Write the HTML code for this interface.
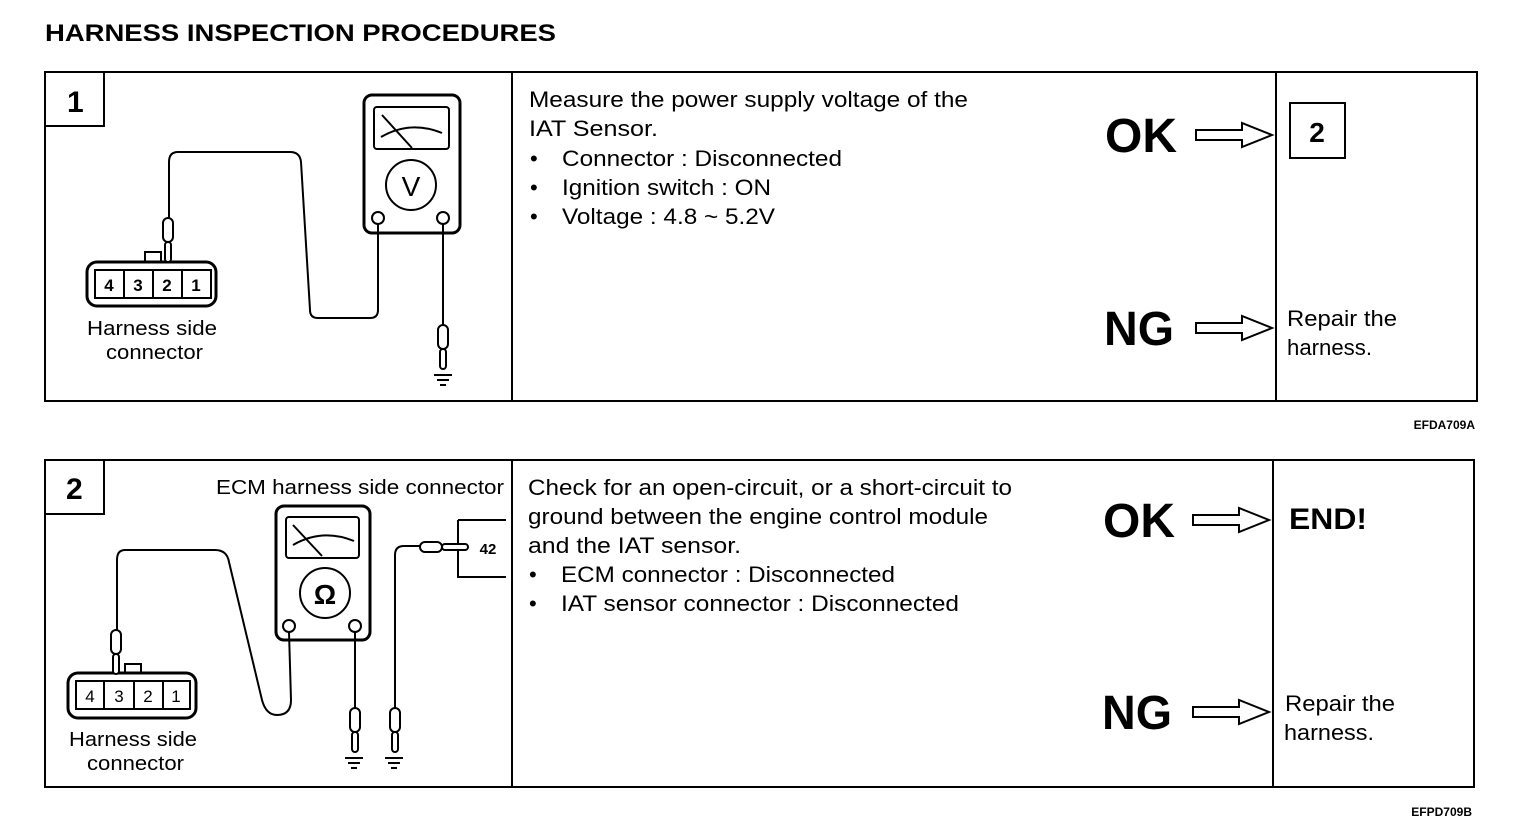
<!DOCTYPE html>
<html><head><meta charset="utf-8"><style>
html,body{margin:0;padding:0;background:#fff;}
svg{display:block;}
text{font-family:"Liberation Sans",Arial,sans-serif;fill:#000;}
</style></head><body>
<svg width="1536" height="830" viewBox="0 0 1536 830" xmlns="http://www.w3.org/2000/svg">
<defs>
<g id="arrow"><path d="M0,-5 L46,-5 L46,-12 L76,0 L46,12 L46,5 L0,5 Z" fill="#fff" stroke="#000" stroke-width="2"/></g>
<g id="gnd" stroke="#000" stroke-width="2"><line x1="-9" y1="0" x2="9" y2="0"/><line x1="-6" y1="5" x2="6" y2="5"/><line x1="-3" y1="10" x2="3" y2="10"/></g>
<g id="probe" fill="#fff" stroke="#000" stroke-width="2"><rect x="-5" y="0" width="10" height="24" rx="5"/><rect x="-3" y="24" width="6" height="20" rx="3"/></g>
</defs>
<text x="45" y="41" font-size="24" font-weight="bold" textLength="511" lengthAdjust="spacingAndGlyphs">HARNESS INSPECTION PROCEDURES</text>

<!-- Panel 1 -->
<g fill="none" stroke="#000" stroke-width="2">
<rect x="45" y="72" width="1432" height="329"/>
<line x1="512" y1="72" x2="512" y2="401"/>
<line x1="1276" y1="72" x2="1276" y2="401"/>
<rect x="45" y="72" width="59" height="54"/>
<rect x="1290" y="103" width="55" height="55"/>
<rect x="364" y="95" width="96" height="138" rx="8" stroke-width="3"/>
<rect x="374" y="107" width="75" height="42" rx="3"/>
<path d="M382,115 L412,148 M381,137 Q410,120 442,133"/>
<circle cx="411" cy="185" r="25"/>
<circle cx="378" cy="218" r="6"/><circle cx="443" cy="218" r="6"/>
<path d="M378,224 L378,310 Q378,318 370,318 L318,318 Q310,318 310,310 L301,162 Q300,152 290,152 L178,152 Q169,152 169,162 L169,218"/>
<line x1="443" y1="224" x2="443" y2="325"/>
<rect x="87" y="262" width="129" height="44" rx="10" stroke-width="3"/>
<rect x="95" y="270" width="116" height="28"/>
<line x1="124" y1="270" x2="124" y2="298"/><line x1="153" y1="270" x2="153" y2="298"/><line x1="182" y1="270" x2="182" y2="298"/>
<rect x="145" y="252" width="16" height="10"/>
</g>
<use href="#probe" x="168" y="218"/>
<use href="#probe" x="443" y="325"/>
<use href="#gnd" x="443" y="375"/>
<text x="411" y="196" font-size="28" text-anchor="middle">V</text>
<g font-size="17" font-weight="bold" text-anchor="middle"><text x="109" y="291">4</text><text x="138" y="291">3</text><text x="167" y="291">2</text><text x="196" y="291">1</text></g>
<text x="87" y="335" font-size="20" textLength="130" lengthAdjust="spacingAndGlyphs">Harness side</text>
<text x="106" y="359" font-size="20" textLength="97" lengthAdjust="spacingAndGlyphs">connector</text>
<text x="67" y="112" font-size="30" font-weight="bold">1</text>
<g font-size="22">
<text x="529" y="107" textLength="439" lengthAdjust="spacingAndGlyphs">Measure the power supply voltage of the</text>
<text x="529" y="136" textLength="129" lengthAdjust="spacingAndGlyphs">IAT Sensor.</text>
<text x="530" y="166">•</text><text x="562" y="166" textLength="280" lengthAdjust="spacingAndGlyphs">Connector : Disconnected</text>
<text x="530" y="195">•</text><text x="562" y="195" textLength="209" lengthAdjust="spacingAndGlyphs">Ignition switch : ON</text>
<text x="530" y="224">•</text><text x="562" y="224" textLength="213" lengthAdjust="spacingAndGlyphs">Voltage : 4.8 ~ 5.2V</text>
</g>
<text x="1105" y="152" font-size="48" font-weight="bold" textLength="72" lengthAdjust="spacingAndGlyphs">OK</text>
<text x="1104" y="345" font-size="48" font-weight="bold" textLength="70" lengthAdjust="spacingAndGlyphs">NG</text>
<use href="#arrow" x="1196" y="135"/>
<use href="#arrow" x="1196" y="328"/>
<text x="1317" y="142" font-size="28" font-weight="bold" text-anchor="middle">2</text>
<text x="1287" y="326" font-size="22" textLength="110" lengthAdjust="spacingAndGlyphs">Repair the</text>
<text x="1287" y="355" font-size="22" textLength="85" lengthAdjust="spacingAndGlyphs">harness.</text>
<text x="1475" y="429" font-size="12" font-weight="bold" text-anchor="end">EFDA709A</text>

<!-- Panel 2 -->
<g fill="none" stroke="#000" stroke-width="2">
<rect x="45" y="460" width="1429" height="327"/>
<line x1="512" y1="460" x2="512" y2="787"/>
<line x1="1273" y1="460" x2="1273" y2="787"/>
<rect x="45" y="460" width="59" height="54"/>
<rect x="276" y="506" width="94" height="134" rx="8" stroke-width="3"/>
<rect x="286" y="517" width="73" height="41" rx="3"/>
<path d="M293,525 L322,556 M293,545 Q322,528 354,541"/>
<circle cx="325" cy="593" r="25"/>
<circle cx="289" cy="626" r="6"/><circle cx="355" cy="626" r="6"/>
<path d="M289,632 L291,700 Q291,715 277,715 Q266,715 262,700 L229,562 Q227,550 215,550 L125,550 Q117,550 117,560 L117,632"/>
<line x1="355" y1="632" x2="355" y2="708"/>
<path d="M395,708 L395,555 Q395,546 404,546 L420,546"/>
<path d="M458,520 L506,520 M458,520 L458,577 L506,577"/>
<rect x="420" y="542" width="22" height="10" rx="5" fill="#fff"/>
<rect x="442" y="544" width="26" height="6" rx="3" fill="#fff"/>
<rect x="68" y="673" width="128" height="45" rx="10" stroke-width="3"/>
<rect x="76" y="681" width="114" height="28"/>
<line x1="104" y1="681" x2="104" y2="709"/><line x1="134" y1="681" x2="134" y2="709"/><line x1="163" y1="681" x2="163" y2="709"/>
<rect x="125" y="664" width="16" height="9"/>
</g>
<use href="#probe" x="116" y="630"/>
<use href="#probe" x="355" y="708"/>
<use href="#probe" x="395" y="708"/>
<use href="#gnd" x="354" y="758"/>
<use href="#gnd" x="394" y="758"/>
<text x="325" y="604" font-size="28" font-weight="bold" text-anchor="middle">Ω</text>
<text x="488" y="554" font-size="15" font-weight="bold" text-anchor="middle">42</text>
<g font-size="17" text-anchor="middle"><text x="90" y="702">4</text><text x="119" y="702">3</text><text x="148" y="702">2</text><text x="176" y="702">1</text></g>
<text x="69" y="746" font-size="20" textLength="128" lengthAdjust="spacingAndGlyphs">Harness side</text>
<text x="87" y="770" font-size="20" textLength="97" lengthAdjust="spacingAndGlyphs">connector</text>
<text x="216" y="494" font-size="20" textLength="288" lengthAdjust="spacingAndGlyphs">ECM harness side connector</text>
<text x="66" y="499" font-size="30" font-weight="bold">2</text>
<g font-size="22">
<text x="528" y="495" textLength="484" lengthAdjust="spacingAndGlyphs">Check for an open-circuit, or a short-circuit to</text>
<text x="528" y="524" textLength="460" lengthAdjust="spacingAndGlyphs">ground between the engine control module</text>
<text x="528" y="553" textLength="213" lengthAdjust="spacingAndGlyphs">and the IAT sensor.</text>
<text x="529" y="582">•</text><text x="561" y="582" textLength="334" lengthAdjust="spacingAndGlyphs">ECM connector : Disconnected</text>
<text x="529" y="611">•</text><text x="561" y="611" textLength="398" lengthAdjust="spacingAndGlyphs">IAT sensor connector : Disconnected</text>
</g>
<text x="1103" y="537" font-size="48" font-weight="bold" textLength="72" lengthAdjust="spacingAndGlyphs">OK</text>
<text x="1102" y="729" font-size="48" font-weight="bold" textLength="70" lengthAdjust="spacingAndGlyphs">NG</text>
<use href="#arrow" x="1193" y="520"/>
<use href="#arrow" x="1193" y="712"/>
<text x="1289" y="529" font-size="30" font-weight="bold" textLength="78" lengthAdjust="spacingAndGlyphs">END!</text>
<text x="1285" y="711" font-size="22" textLength="110" lengthAdjust="spacingAndGlyphs">Repair the</text>
<text x="1284" y="740" font-size="22" textLength="90" lengthAdjust="spacingAndGlyphs">harness.</text>
<text x="1472" y="816" font-size="12" font-weight="bold" text-anchor="end">EFPD709B</text>
</svg>
</body></html>
